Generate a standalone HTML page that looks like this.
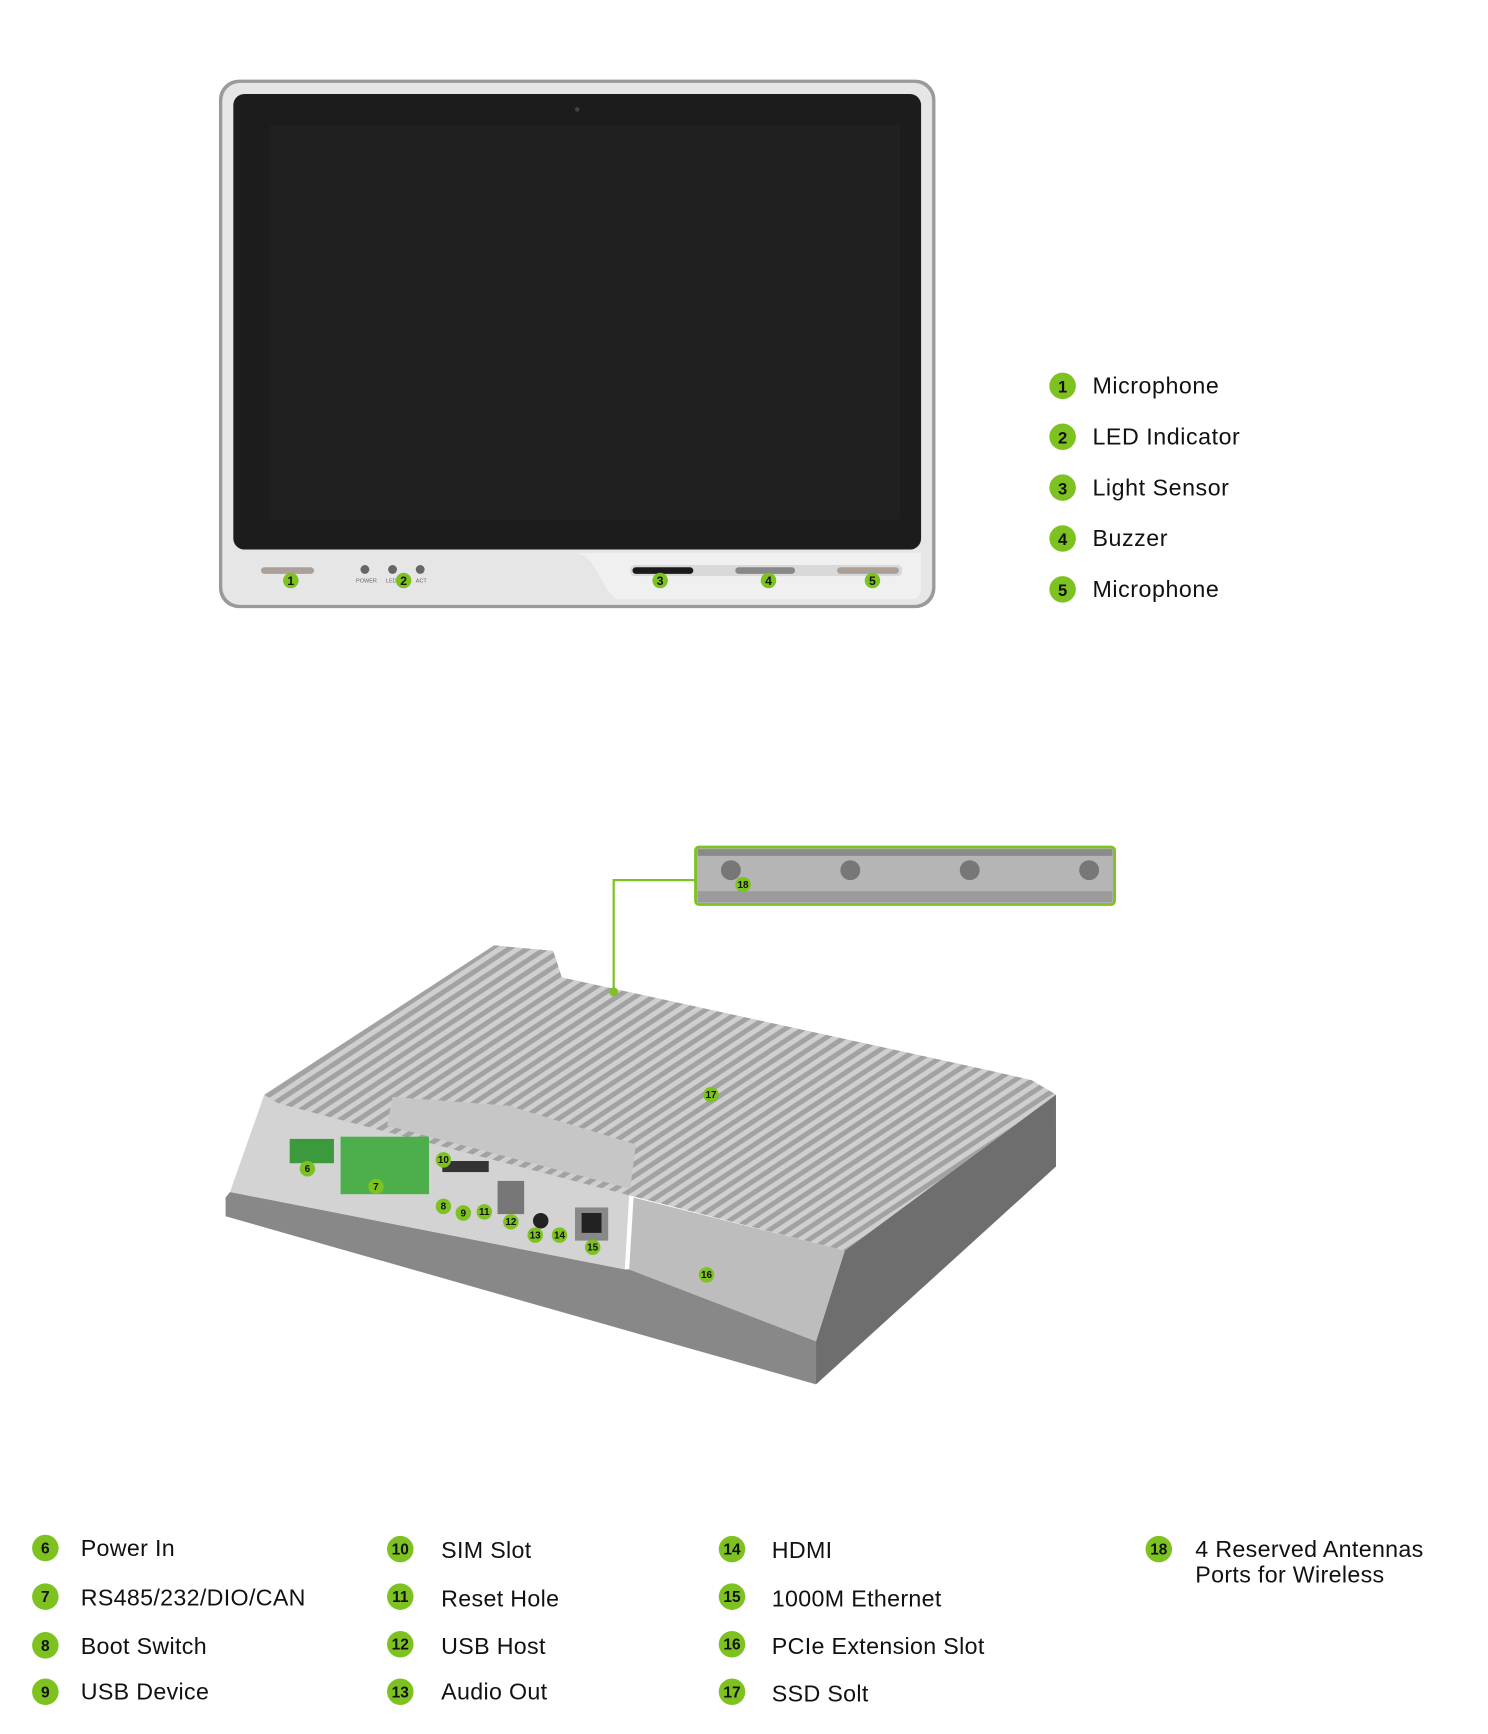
<!DOCTYPE html>
<html><head><meta charset="utf-8"><style>
html,body{margin:0;padding:0;background:#fff;}
svg{display:block}
text{font-family:"Liberation Sans",sans-serif;}
</style></head><body>
<svg width="1488" height="1734" viewBox="0 0 1345.7 1568.2" xmlns="http://www.w3.org/2000/svg">
<defs>
<pattern id="fins" width="9" height="9" patternUnits="userSpaceOnUse" patternTransform="rotate(-33.4)">
<rect width="9" height="9" fill="#a2a2a2"/><rect width="9" height="4.5" fill="#cfcfcf"/>
</pattern>
<clipPath id="plateClip"><polygon points="447,855 500,860 503,868 508,884 894,968 933,977 955,990 764,1131 569,1081 252,998 239,990"/></clipPath>
</defs>
<!-- Monitor -->
<rect x="198" y="72" width="648" height="478" rx="18" fill="#9a9a9a"/>
<rect x="201" y="75" width="642" height="472" rx="16" fill="#e6e6e6"/>
<rect x="211" y="85" width="622" height="412" rx="10" fill="#1c1c1c"/>
<rect x="244" y="113" width="570" height="357" fill="#202020"/>
<circle cx="522" cy="99" r="2" fill="#444"/>
<path d="M520,500 C540,500 545,540 560,542 L825,542 Q833,542 833,530 L833,500 Z" fill="#f0f0f0"/>
<rect x="236" y="513" width="48" height="6" rx="3" fill="#aaa098"/>
<circle cx="330" cy="515" r="4" fill="#666"/><circle cx="355" cy="515" r="4" fill="#666"/><circle cx="380" cy="515" r="4" fill="#666"/>
<text x="322" y="527" font-size="5" fill="#666">POWER</text><text x="349" y="527" font-size="5" fill="#666">LED</text><text x="376" y="527" font-size="5" fill="#666">ACT</text>
<rect x="570" y="511" width="246" height="10" rx="4" fill="#d9d9d9"/>
<rect x="572" y="513" width="55" height="6" rx="3" fill="#1a1a1a"/>
<rect x="665" y="513" width="54" height="6" rx="3" fill="#888"/>
<rect x="757" y="513" width="56" height="6" rx="3" fill="#aaa098"/>
<g font-size="11" font-weight="bold" text-anchor="middle" fill="#111">
<circle cx="263" cy="525" r="7" fill="#7dc220"/><text x="263" y="529">1</text>
<circle cx="365" cy="525" r="7" fill="#7dc220"/><text x="365" y="529">2</text>
<circle cx="597" cy="525" r="7" fill="#7dc220"/><text x="597" y="529">3</text>
<circle cx="695" cy="525" r="7" fill="#7dc220"/><text x="695" y="529">4</text>
<circle cx="789" cy="525" r="7" fill="#7dc220"/><text x="789" y="529">5</text>
</g>
<!-- top legend -->
<g font-size="21" fill="#111" letter-spacing="0.5">
<g text-anchor="middle" font-size="15" font-weight="bold" letter-spacing="0">
<circle cx="961" cy="349" r="12" fill="#7dc220"/><text x="961" y="355">1</text>
<circle cx="961" cy="395" r="12" fill="#7dc220"/><text x="961" y="401">2</text>
<circle cx="961" cy="441" r="12" fill="#7dc220"/><text x="961" y="447">3</text>
<circle cx="961" cy="487" r="12" fill="#7dc220"/><text x="961" y="493">4</text>
<circle cx="961" cy="533" r="12" fill="#7dc220"/><text x="961" y="539">5</text>
</g>
<text x="988" y="356">Microphone</text>
<text x="988" y="402">LED Indicator</text>
<text x="988" y="448">Light Sensor</text>
<text x="988" y="494">Buzzer</text>
<text x="988" y="540">Microphone</text>
</g>
<!-- inset -->
<rect x="629" y="766" width="379" height="52" rx="3" fill="#b5b5b5" stroke="#7dc220" stroke-width="2.5"/>
<rect x="631" y="768" width="375" height="6" fill="#8a8a8a"/>
<rect x="631" y="806" width="375" height="10" fill="#9b9b9b"/>
<g fill="#777"><circle cx="661" cy="787" r="9"/><circle cx="769" cy="787" r="9"/><circle cx="877" cy="787" r="9"/><circle cx="985" cy="787" r="9"/></g>
<polyline points="629,796 555,796 555,897" fill="none" stroke="#7dc220" stroke-width="2"/>
<!-- device -->
<polygon points="208,1078 565,1148 569,1148 738,1213 738,1252 204,1100 204,1083" fill="#888"/>
<polygon points="955,990 955,1055 738,1252 738,1213 764,1131" fill="#6e6e6e"/>
<polygon points="252,998 569,1081 565,1148 208,1078 239,990" fill="#d3d3d3"/>
<polygon points="573,1083 764,1131 738,1213 569,1148" fill="#bdbdbd"/>
<polygon points="447,855 500,860 503,868 508,884 894,968 933,977 955,990 764,1131 569,1081 252,998 239,990" fill="#a9a9a9"/>
<g clip-path="url(#plateClip)"><rect x="200" y="840" width="780" height="310" fill="url(#fins)"/>
<polygon points="355,992 460,1000 575,1035 570,1075 350,1018" fill="#c6c6c6"/></g>
<circle cx="555" cy="897" r="4" fill="#7dc220"/>
<rect x="262" y="1030" width="40" height="22" fill="#3c9a3c"/>
<rect x="308" y="1028" width="80" height="52" fill="#4caf4c"/>
<rect x="400" y="1050" width="42" height="10" fill="#333"/>
<rect x="450" y="1068" width="24" height="30" fill="#777"/>
<circle cx="489" cy="1104" r="7" fill="#222"/>
<rect x="520" y="1092" width="30" height="30" fill="#888"/><rect x="526" y="1097" width="18" height="18" fill="#222"/>
<g font-size="9" font-weight="bold" text-anchor="middle" fill="#111">
<circle cx="672" cy="800" r="7" fill="#7dc220"/><text x="672" y="803">18</text>
<circle cx="643" cy="990" r="7" fill="#7dc220"/><text x="643" y="993">17</text>
<circle cx="278" cy="1057" r="7" fill="#7dc220"/><text x="278" y="1060">6</text>
<circle cx="340" cy="1073" r="7" fill="#7dc220"/><text x="340" y="1076">7</text>
<circle cx="401" cy="1091" r="7" fill="#7dc220"/><text x="401" y="1094">8</text>
<circle cx="419" cy="1097" r="7" fill="#7dc220"/><text x="419" y="1100">9</text>
<circle cx="401" cy="1049" r="7" fill="#7dc220"/><text x="401" y="1052">10</text>
<circle cx="438" cy="1096" r="7" fill="#7dc220"/><text x="438" y="1099">11</text>
<circle cx="462" cy="1105" r="7" fill="#7dc220"/><text x="462" y="1108">12</text>
<circle cx="484" cy="1117" r="7" fill="#7dc220"/><text x="484" y="1120">13</text>
<circle cx="506" cy="1117" r="7" fill="#7dc220"/><text x="506" y="1120">14</text>
<circle cx="536" cy="1128" r="7" fill="#7dc220"/><text x="536" y="1131">15</text>
<circle cx="639" cy="1153" r="7" fill="#7dc220"/><text x="639" y="1156">16</text>
</g>
<!-- bottom legend -->
<g font-size="21" fill="#111" letter-spacing="0.3">
<g text-anchor="middle" font-size="14" font-weight="bold" letter-spacing="0">
<circle cx="41" cy="1400" r="12" fill="#7dc220"/><text x="41" y="1405">6</text>
<circle cx="41" cy="1444" r="12" fill="#7dc220"/><text x="41" y="1449">7</text>
<circle cx="41" cy="1488" r="12" fill="#7dc220"/><text x="41" y="1493">8</text>
<circle cx="41" cy="1530" r="12" fill="#7dc220"/><text x="41" y="1535">9</text>
<circle cx="362" cy="1401" r="12" fill="#7dc220"/><text x="362" y="1406">10</text>
<circle cx="362" cy="1444" r="12" fill="#7dc220"/><text x="362" y="1449">11</text>
<circle cx="362" cy="1487" r="12" fill="#7dc220"/><text x="362" y="1492">12</text>
<circle cx="362" cy="1530" r="12" fill="#7dc220"/><text x="362" y="1535">13</text>
<circle cx="662" cy="1401" r="12" fill="#7dc220"/><text x="662" y="1406">14</text>
<circle cx="662" cy="1444" r="12" fill="#7dc220"/><text x="662" y="1449">15</text>
<circle cx="662" cy="1487" r="12" fill="#7dc220"/><text x="662" y="1492">16</text>
<circle cx="662" cy="1530" r="12" fill="#7dc220"/><text x="662" y="1535">17</text>
<circle cx="1048" cy="1401" r="12" fill="#7dc220"/><text x="1048" y="1406">18</text>
</g>
<text x="73" y="1407">Power In</text>
<text x="73" y="1452">RS485/232/DIO/CAN</text>
<text x="73" y="1496">Boot Switch</text>
<text x="73" y="1537">USB Device</text>
<text x="399" y="1409">SIM Slot</text>
<text x="399" y="1453">Reset Hole</text>
<text x="399" y="1496">USB Host</text>
<text x="399" y="1537">Audio Out</text>
<text x="698" y="1409">HDMI</text>
<text x="698" y="1453">1000M Ethernet</text>
<text x="698" y="1496">PCIe Extension Slot</text>
<text x="698" y="1539">SSD Solt</text>
<text x="1081" y="1408">4 Reserved Antennas</text>
<text x="1081" y="1431">Ports for Wireless</text>
</g>
</svg>
</body></html>
